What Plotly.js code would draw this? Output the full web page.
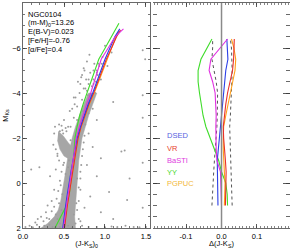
<!DOCTYPE html>
<html><head><meta charset="utf-8">
<script src="https://cdn.plot.ly/plotly-3.0.1.min.js"></script>
<style>html,body{margin:0;padding:0;background:#fff}#chart{width:291px;height:249px}</style>
</head><body><div id="chart"></div>
<script>
// ---------- Left panel: CMD data ----------
const rgbBandColor = [0.22,0.30,0.38,0.43,0.46,0.48,0.50,0.52,0.54,0.57,0.60,0.64,0.69,0.74,0.80,0.90,0.85,0.80,0.76,0.72,0.70,0.68,0.67,0.66,0.65,0.64,0.63,0.64];
const rgbBandMag   = [2.0,1.8,1.5,1.2,0.8,0.4,0.0,-0.5,-1.0,-1.5,-2.0,-2.5,-3.0,-3.5,-4.0,-4.0,-3.5,-3.0,-2.5,-2.0,-1.5,-1.0,-0.5,0.0,0.5,1.0,1.5,2.0];
const clumpColor = [0.43,0.49,0.55,0.61,0.63,0.57,0.50,0.45,0.42];
const clumpMag   = [-2.3,-2.1,-1.8,-1.55,-1.2,-1.05,-1.2,-1.5,-1.9];
const starColor = [0.03,0.08,0.12,0.17,0.20,0.25,0.22,0.28,0.32,0.30,0.35,0.38,0.33,0.40,0.20,0.10,0.42,0.38,0.44,0.50,0.55,0.60,0.62,0.70,0.72,0.75,0.78,0.80,0.83,0.86,0.90,0.92,0.97,1.00,1.03,0.85,0.90,0.80,0.85,0.95,0.78,0.90,1.05,0.82,0.75,0.95,1.10,1.25,1.30,1.20,1.46,1.46,1.46,1.24,1.46,1.27,1.46,1.49,1.10,0.68,0.72,0.80,0.90,1.00,1.08,1.15,1.35,1.42,1.50,0.60,0.64,
  0.45,0.42,0.47,0.62,0.65,0.48,0.68,0.52,0.70,0.56,0.72,0.74,0.58,0.62,0.76,0.66,0.80,0.72,0.82,0.76,0.88,0.82,0.95,0.87,1.08,0.36,0.32,0.40,0.44,0.46,0.66,0.50,0.68,0.70,0.45,0.48,0.42,0.40,0.64,0.63,0.57,0.53,0.49,0.67,0.71,0.74,0.78,0.81,0.69,0.73,0.58,0.55,
  0.84,0.86,0.90,0.93,0.80,0.79,0.77,0.74,0.89,0.91,0.86,0.96,0.15,0.18,0.26,0.29,0.35,0.38,0.41,0.43,0.45,0.47,0.49,0.66,0.68,0.70,0.70,0.71,0.73,0.75,0.55,0.50,0.45,0.40,0.70,0.58,0.60,0.39,0.47,0.52,0.66,0.37,0.44];
const starMag = [1.95,1.90,1.97,1.85,1.95,1.70,1.50,1.30,1.60,1.00,0.80,0.30,-0.30,-0.60,-0.70,-0.60,-1.20,-2.20,-2.60,-2.80,-2.50,-3.30,-3.80,-4.40,-4.80,-5.00,-4.10,-4.60,-3.90,-4.40,-4.90,-5.30,-5.60,-6.10,-5.20,-3.30,-2.80,-2.20,-1.60,-1.10,-0.80,-0.30,0.40,0.60,1.10,1.30,1.60,1.90,-0.20,-1.40,-5.90,-3.90,-2.90,-1.45,-0.90,0.75,1.10,-5.50,-3.60,1.60,1.90,1.95,1.95,1.97,1.93,1.96,1.95,1.97,1.95,2.00,1.80,
  1.80,1.60,1.20,1.40,0.90,0.50,0.20,-0.40,-0.50,-1.00,-1.20,-1.80,-2.50,-2.90,-2.60,-3.40,-3.10,-3.70,-3.60,-4.20,-4.00,-4.90,-4.60,-5.30,-5.80,1.95,1.85,1.40,0.90,0.10,-0.20,-0.90,-2.20,-3.00,-2.30,-2.35,-1.30,-1.50,-3.80,-3.50,-3.20,-2.30,-2.20,-4.50,-4.70,-5.10,-5.40,-5.70,-4.00,-3.20,-1.90,-0.70,
  -4.30,-4.60,-5.00,-5.20,-4.40,-3.90,-4.60,-4.20,-4.50,-4.80,-5.00,-5.30,1.75,1.60,1.90,1.55,1.25,1.05,0.70,0.35,-0.10,-0.50,-0.80,1.20,0.80,0.30,-0.20,-0.80,-1.50,-2.10,1.90,1.95,1.95,1.97,1.70,-0.30,-0.80,-2.50,-2.55,-2.45,-2.80,-1.70,-1.00];

const isoMagL = [2.0,1.5,1.0,0.5,0.0,-0.5,-1.0,-1.5,-2.0,-2.5,-3.0,-3.5,-4.0,-4.5,-5.0,-5.5,-6.0,-6.5];
const dsedColor  = [0.485,0.500,0.520,0.540,0.560,0.585,0.610,0.635,0.660,0.700,0.745,0.795,0.850,0.900,0.950,1.000,1.060,1.120,1.180];
const dsedMagL   = isoMagL.concat([-6.85]);
const vrColor    = [0.506,0.521,0.541,0.563,0.586,0.610,0.633,0.652,0.672,0.708,0.751,0.803,0.861,0.915,0.969,1.016,1.080,1.141,1.190];
const vrMagL     = isoMagL.concat([-6.80]);
const bastiColor = [0.495,0.510,0.530,0.551,0.570,0.594,0.609,0.629,0.650,0.687,0.728,0.775,0.826,0.866,0.905,0.954,1.039,1.123,1.225];
const bastiMagL  = isoMagL.concat([-6.85]);
const yyColor    = [0.390,0.460,0.530,0.565,0.584,0.597,0.614,0.624,0.634,0.659,0.691,0.733,0.782,0.825,0.872,0.924,1.002,1.080,1.170];
const yyMagL     = isoMagL.concat([-7.10]);
const pgColor    = [0.500,0.518,0.538,0.560,0.582,0.605,0.628,0.649,0.671,0.709,0.755,0.809,0.869,0.923,0.976,1.022,1.079,1.133,1.170];
const pgMagL     = isoMagL.concat([-6.75]);

// ---------- Right panel: residuals ----------
const resMag   = [1.0,0.5,0.0,-0.5,-1.0,-1.5,-2.0,-2.5,-3.0,-3.5,-4.0,-4.5,-5.0,-5.5,-6.0,-6.4];
const dsedRes  = [-0.010,-0.011,-0.012,-0.012,-0.012,-0.009,-0.006,-0.003,0.002,0.004,0.006,0.009,0.012,0.018,0.016,0.015];
const vrRes    = [0.011,0.012,0.014,0.013,0.011,0.008,0.006,0.005,0.008,0.012,0.017,0.024,0.031,0.034,0.036,0.036];
const bastiRes = [0.000,0.000,-0.002,-0.003,-0.013,-0.015,-0.016,-0.016,-0.015,-0.016,-0.018,-0.025,-0.035,-0.030,-0.005,0.017];
const yyRes    = [0.017,0.016,0.012,0.000,-0.008,-0.020,-0.032,-0.044,-0.052,-0.058,-0.062,-0.066,-0.066,-0.058,-0.042,-0.027];
const pgRes    = [0.008,0.009,0.010,0.008,0.006,0.005,0.005,0.006,0.012,0.018,0.025,0.032,0.038,0.040,0.035,0.028];
const sigLo    = [-0.027,-0.026,-0.025,-0.022,-0.020,-0.017,-0.015,-0.013,-0.012,-0.011,-0.011,-0.015,-0.022,-0.027,-0.025,-0.025];
const sigHi    = [0.030,0.029,0.028,0.026,0.025,0.023,0.022,0.023,0.025,0.027,0.028,0.029,0.030,0.030,0.028,0.025];

const modelNames  = ['DSED','VR','BaSTI','YY','PGPUC'];
const lineColors  = ['#2b3fe6','#e8302a','#e02fe0','#3fdc2a','#ff9f1a'];
const labelColors = ['#5563e0','#e8402e','#e03be0','#3fd82a','#f2b83a'];
const clusterInfo = ['NGC0104','(m-M)<sub>0</sub>=13.26','E(B-V)=0.023','[Fe/H]=-0.76','[α/Fe]=0.4'];

const FONT = 'Liberation Sans, Arial, sans-serif';
const traces = [];
traces.push({x: rgbBandColor, y: rgbBandMag, type:'scatter', mode:'lines', fill:'toself', fillcolor:'#a6a6a6', line:{width:0.5, color:'#a6a6a6'}, hoverinfo:'skip', xaxis:'x', yaxis:'y'});
traces.push({x: clumpColor, y: clumpMag, type:'scatter', mode:'lines', fill:'toself', fillcolor:'#a6a6a6', line:{width:0.5, color:'#a6a6a6'}, hoverinfo:'skip', xaxis:'x', yaxis:'y'});
traces.push({x: starColor, y: starMag, type:'scatter', mode:'markers', marker:{size:2, color:'#9c9c9c'}, xaxis:'x', yaxis:'y'});

const leftX = [yyColor, pgColor, vrColor, dsedColor, bastiColor];
const leftY = [yyMagL, pgMagL, vrMagL, dsedMagL, bastiMagL];
const order = [3,4,1,0,2];
order.forEach((k,i)=>{
  traces.push({x:leftX[i], y:leftY[i], type:'scatter', mode:'lines', line:{color:lineColors[k], width:1.1}, xaxis:'x', yaxis:'y'});
});
traces.push({x:sigLo, y:resMag, type:'scatter', mode:'lines', line:{color:'#555', width:1, dash:'dot'}, xaxis:'x2', yaxis:'y2'});
traces.push({x:sigHi, y:resMag, type:'scatter', mode:'lines', line:{color:'#555', width:1, dash:'dot'}, xaxis:'x2', yaxis:'y2'});
const resList = [dsedRes, vrRes, bastiRes, yyRes, pgRes];
[3,4,1,0,2].forEach(k=>{
  traces.push({x:resList[k], y:resMag, type:'scatter', mode:'lines', line:{color:lineColors[k], width:1.1}, xaxis:'x2', yaxis:'y2'});
});

const annotations = [];
const infoY = [-7.5,-7.12,-6.72,-6.32,-5.92];
clusterInfo.forEach((t,i)=>{
  annotations.push({text:t, x:0.04, y:infoY[i], xref:'x', yref:'y', xanchor:'left', yanchor:'middle', showarrow:false, font:{family:FONT, size:7.5, color:'#000'}});
});
const legY = [-2.1,-1.55,-1.0,-0.47,0.0];
modelNames.forEach((t,i)=>{
  annotations.push({text:t, x:-0.16, y:legY[i], xref:'x2', yref:'y2', xanchor:'left', yanchor:'middle', showarrow:false, font:{family:FONT, size:7.5, color:labelColors[i]}});
});

const axBase = {ticks:'inside', tickcolor:'#333', tickwidth:0.8, showline:true, linecolor:'#444', linewidth:0.8, mirror:'ticks', showgrid:false, zeroline:false, tickfont:{family:FONT, size:7.5, color:'#000'}};
const layout = {
  width:291, height:249, margin:{l:23, r:1, t:3, b:21},
  paper_bgcolor:'#fff', plot_bgcolor:'#fff', showlegend:false,
  font:{family:FONT, size:7.5, color:'#000'},
  xaxis: Object.assign({}, axBase, {domain:[0,0.476], range:[0,1.55], tickvals:[0,0.5,1.0,1.5], ticktext:['0.0','0.5','1.0','1.5'], ticklen:4, ticklabelstandoff:1, minor:{dtick:0.1, ticklen:2, ticks:'inside', tickcolor:'#555'},
    title:{text:'(J-K<sub>S</sub>)<sub>0</sub>', font:{family:FONT, size:7.5}, standoff:1}}),
  yaxis: Object.assign({}, axBase, {domain:[0,1], range:[2,-8], tickvals:[-8,-6,-4,-2,0,2], ticklen:4, minor:{dtick:0.5, ticklen:2, ticks:'inside', tickcolor:'#555'},
    title:{text:'M<sub>Ks</sub>', font:{family:FONT, size:7.5}, standoff:2}}),
  xaxis2: Object.assign({}, axBase, {domain:[0.487,1], range:[-0.193,0.193], anchor:'y2', tickvals:[-0.1,0,0.1], ticktext:['-0.1','0.0','0.1'], ticklen:4, ticklabelstandoff:1, minor:{dtick:0.01, ticklen:2, ticks:'inside', tickcolor:'#666'},
    title:{text:'Δ(J-K<sub>S</sub>)', font:{family:FONT, size:7.5}, standoff:1}}),
  yaxis2: Object.assign({}, axBase, {domain:[0,1], range:[2,-8], anchor:'x2', showline:false, showticklabels:false, tickvals:[-8,-6,-4,-2,0,2], ticklen:7, minor:{dtick:0.5, ticklen:4, ticks:'inside', tickcolor:'#444'}}),
  shapes:[{type:'line', xref:'x2', yref:'y2', x0:0, x1:0, y0:2, y1:-8, line:{color:'#8a8a8a', width:1.5}}],
  annotations: annotations
};
Plotly.newPlot('chart', traces, layout, {displayModeBar:false, staticPlot:true});
</script></body></html>
